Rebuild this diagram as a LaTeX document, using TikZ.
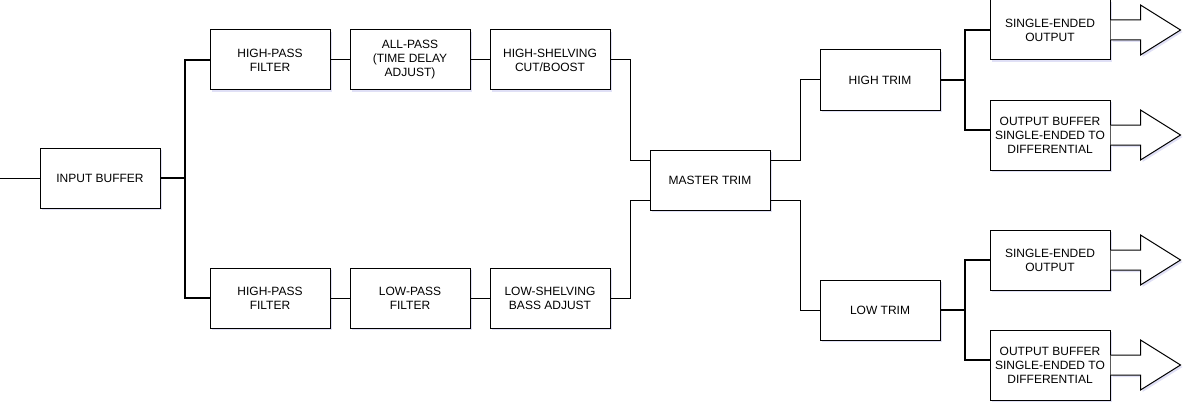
\documentclass[tikz,border=0pt]{standalone}
\usepackage{fontspec}
\setmainfont{Liberation Sans}
\usetikzlibrary{shadows}
\begin{document}
\begin{tikzpicture}[x=1pt,y=-1pt,
  shd/.style={drop shadow={shadow xshift=2pt,shadow yshift=-2pt,fill=black!30!blue!35,opacity=0.35}},
  blk/.style={draw=black,line width=1pt,fill=white,shd,minimum width=120pt,minimum height=60pt,
    inner sep=0pt,align=center,font=\fontsize{12}{14}\selectfont},
  tall/.style={blk,minimum height=70pt},
  thin/.style={draw=black,line width=1pt},
  thick/.style={draw=black,line width=2pt},
  outarrow/.style={draw=black,line width=1pt,fill=white,shd,line join=miter}]
\useasboundingbox (0,0) rectangle (1192,412);
% blocks
\node[blk] (inbuf) at (100,178) {INPUT BUFFER};
\node[blk] (hp1) at (270,60) {HIGH-PASS\\FILTER};
\node[blk] (ap) at (410,60) {ALL-PASS\\(TIME DELAY\\ADJUST)};
\node[blk] (hs) at (550,60) {HIGH-SHELVING\\CUT/BOOST};
\node[blk] (hp2) at (270,298) {HIGH-PASS\\FILTER};
\node[blk] (lp) at (410,298) {LOW-PASS\\FILTER};
\node[blk] (ls) at (550,298) {LOW-SHELVING\\BASS ADJUST};
\node[blk] (mt) at (710,180) {MASTER TRIM};
\node[blk] (ht) at (880,80) {HIGH TRIM};
\node[blk] (lt) at (880,310) {LOW TRIM};
\node[blk] (se1) at (1050,30) {SINGLE-ENDED\\OUTPUT};
\node[tall] (ob1) at (1050,135) {OUTPUT BUFFER\\SINGLE-ENDED TO\\DIFFERENTIAL};
\node[blk] (se2) at (1050,260) {SINGLE-ENDED\\OUTPUT};
\node[tall] (ob2) at (1050,365) {OUTPUT BUFFER\\SINGLE-ENDED TO\\DIFFERENTIAL};
% input
\coordinate (in) at (0,178);
\draw[thin] (in) -- (inbuf.west);
\coordinate (j0) at (185,178);
\draw[thick] (inbuf.east) -- (j0);
\draw[thick] (hp1.west) -| (j0) |- (hp2.west);
% chains
\draw[thin] (hp1) -- (ap);
\draw[thin] (ap) -- (hs);
\draw[thin] (hp2) -- (lp);
\draw[thin] (lp) -- (ls);
\draw[thin] (hs.east) -- ++(20,0) |- ([yshift=20pt]mt.west);
\draw[thin] (ls.east) -- ++(20,0) |- ([yshift=-20pt]mt.west);
\draw[thin] ([yshift=20pt]mt.east) -- ++(30,0) |- (ht.west);
\draw[thin] ([yshift=-20pt]mt.east) -- ++(30,0) |- (lt.west);
% outputs
\coordinate (j1) at (965,80);
\coordinate (j2) at (965,310);
\draw[thick] (ht.east) -- (j1);
\draw[thick] (se1.west) -| (j1) |- ([yshift=5pt]ob1.west);
\draw[thick] (lt.east) -- (j2);
\draw[thick] (se2.west) -| (j2) |- ([yshift=5pt]ob2.west);
% output arrows
\foreach \b in {se1,ob1,se2,ob2}{
  \draw[outarrow] (\b.east) ++(0,-10) -- ++(30,0) -- ++(0,-15) -- ++(40,25) -- ++(-40,25) -- ++(0,-15) -- ++(-30,0);
}
\end{tikzpicture}
\end{document}
